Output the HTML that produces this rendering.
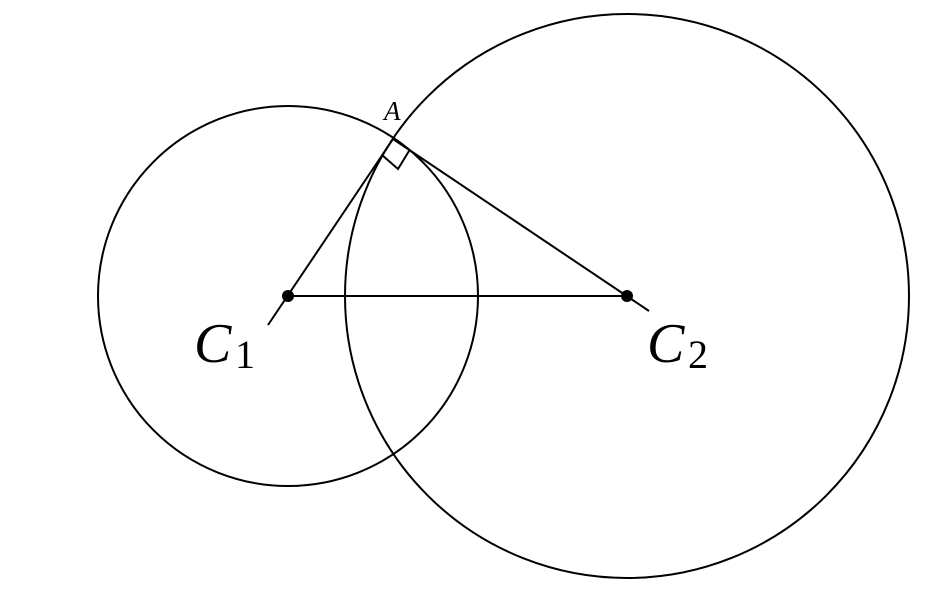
<!DOCTYPE html>
<html><head><style>body{margin:0;background:#fff}</style></head><body>
<svg width="952" height="586" xmlns="http://www.w3.org/2000/svg">
<g fill="none" stroke="#000" stroke-width="2">
<circle cx="288" cy="296" r="190"/>
<circle cx="627" cy="296" r="282"/>
<line x1="268" y1="325" x2="393" y2="139"/>
<line x1="393" y1="139" x2="649" y2="311"/>
<line x1="288" y1="296" x2="627" y2="296"/>
<polyline points="382,155 398,169 409,151"/>
</g>
<circle cx="288" cy="296" r="6"/>
<circle cx="627" cy="296" r="6"/>
<g font-family="Liberation Serif, serif" font-style="italic">
<text x="384" y="120" font-size="27">A</text>
<text x="194" y="362" font-size="56">C</text>
<text x="647" y="362" font-size="56">C</text>
</g>
<g font-family="Liberation Serif, serif">
<text x="235" y="368" font-size="40">1</text>
<text x="688" y="368" font-size="40">2</text>
</g>
</svg>
</body></html>
